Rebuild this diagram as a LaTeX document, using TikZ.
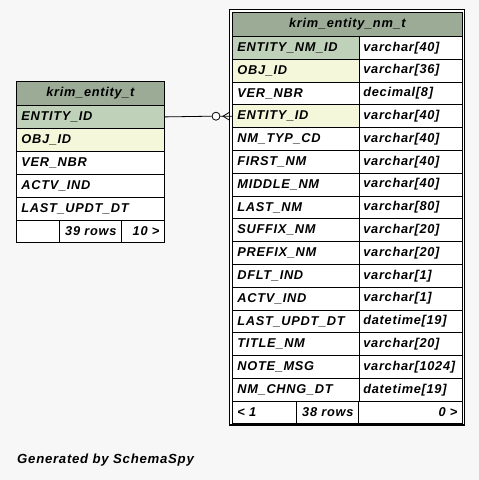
\documentclass[tikz,border=0pt]{standalone}
\usepackage{fontspec}
\setmainfont{Liberation Sans}
\newfontfamily\spyfont[LetterSpace=5.5]{Liberation Sans}
\definecolor{pagebg}{HTML}{F7F7F7}
\definecolor{tblhead}{HTML}{9BAB96}
\definecolor{pkrow}{HTML}{BFD1B8}
\definecolor{fkrow}{HTML}{F4F7DA}
\begin{document}
\begin{tikzpicture}[x=1pt,y=-1pt,
    every node/.style={font=\fontsize{12.8}{14}\spyfont\bfseries\itshape},
    cell/.style={draw,line width=0.8pt,fill=white,anchor=north west,inner ysep=0pt,inner xsep=5pt,minimum height=23pt,text width=#1,align=left},
    head/.style={cell=#1,fill=tblhead,align=center,minimum height=24pt},
    foot/.style={cell=#1,minimum height=22pt,align=right}]
  \fill[pagebg] (0,0) rectangle (479,480);
  \useasboundingbox (0,0) rectangle (479,480);
  % krim_entity_t
  \node[head=138pt] (ltitle) at (16,81) {krim\_entity\_t};
  \node[cell=138pt,fill=pkrow] (lc1) at (16,105) {ENTITY\_ID};
  \node[cell=138pt,fill=fkrow] (lc2) at (16,128) {OBJ\_ID};
  \node[cell=138pt] (lc3) at (16,151) {VER\_NBR};
  \node[cell=138pt] (lc4) at (16,174) {ACTV\_IND};
  \node[cell=138pt] (lc5) at (16,197) {LAST\_UPDT\_DT};
  \node[foot=33pt] (lf1) at (16,220) {};
  \node[foot=52pt] (lf2) at (59,220) {39 rows};
  \node[foot=33pt] (lf3) at (121,220) {10 >};
  % krim_entity_nm_t (selected, double border)
  \draw[line width=1.5pt,fill=white] (229.5,9.5) rectangle (464.5,425);
  \node[head=220pt] (rtitle) at (232,12) {krim\_entity\_nm\_t};
  \foreach \cname/\ctype/\cfill [count=\i from 0] in {
      ENTITY\_NM\_ID/varchar[40]/pkrow, OBJ\_ID/varchar[36]/fkrow,
      VER\_NBR/decimal[8]/white, ENTITY\_ID/varchar[40]/fkrow,
      NM\_TYP\_CD/varchar[40]/white, FIRST\_NM/varchar[40]/white,
      MIDDLE\_NM/varchar[40]/white, LAST\_NM/varchar[80]/white,
      SUFFIX\_NM/varchar[20]/white, PREFIX\_NM/varchar[20]/white,
      DFLT\_IND/varchar[1]/white, ACTV\_IND/varchar[1]/white,
      LAST\_UPDT\_DT/datetime[19]/white, TITLE\_NM/varchar[20]/white,
      NOTE\_MSG/varchar[1024]/white, NM\_CHNG\_DT/datetime[19]/white}{
    \node[cell=117pt,fill=\cfill,minimum height=22.8pt] (rn\i) at (232,{36+22.8*\i}) {\cname};
    \node[cell=95pt,inner xsep=4pt,minimum height=22.8pt] (rt\i) at (359,{36+22.8*\i}) {\ctype};
  }
  \node[foot=54pt,align=left,minimum height=21.7pt] (rf1) at (232,400.8) {< 1};
  \node[foot=52pt,minimum height=21.7pt] (rf2) at (296,400.8) {38 rows};
  \node[foot=94pt,minimum height=21.7pt] (rf3) at (358,400.8) {0 >};
  \draw[line width=1pt] (rtitle.north west) rectangle (rf3.south east);
  % relationship ENTITY_ID -> ENTITY_ID
  \node[draw,circle,line width=0.8pt,fill=white,minimum size=8pt,inner sep=0pt] (ring) at ([xshift=-16pt]rn3.west) {};
  \coordinate (crow) at ([xshift=-9pt]rn3.west);
  \draw[line width=0.8pt] (lc1.east) -- (ring.west) (ring.east) -- (rn3.west);
  \draw[line width=0.8pt] ([xshift=-2.5pt,yshift=4pt]rn3.west) -- (crow) -- ([xshift=-2.5pt,yshift=-4pt]rn3.west);
  \node[anchor=west,inner sep=0pt,font=\fontsize{13.2}{15}\spyfont\bfseries\itshape] (gen) at (17,460) {Generated by SchemaSpy};
\end{tikzpicture}
\end{document}
